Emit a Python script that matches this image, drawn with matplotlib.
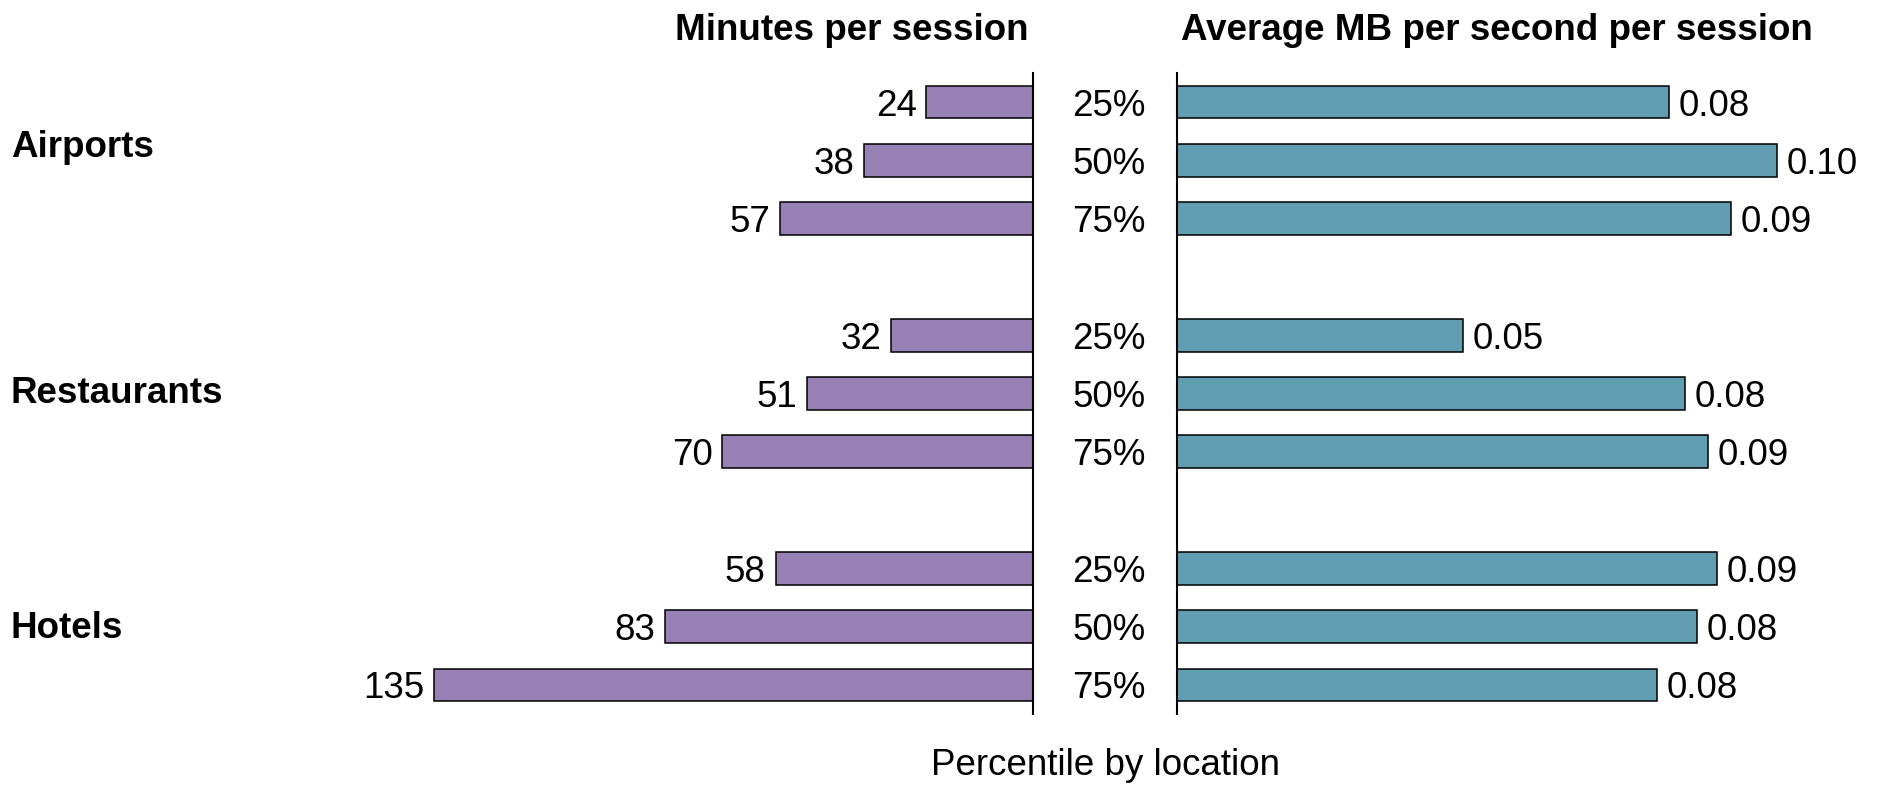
import matplotlib
matplotlib.use("Agg")
import matplotlib.pyplot as plt
import matplotlib.transforms as mtransforms

plt.rcParams["font.family"] = ["Liberation Sans", "DejaVu Sans"]

# data
locations = ["Airports", "Restaurants", "Hotels"]
percentiles = ["25%", "50%", "75%"]
minutes = [24, 38, 57, 32, 51, 70, 58, 83, 135]
mb_per_sec = [0.0795, 0.097, 0.0896, 0.0462, 0.0821, 0.0859, 0.0873, 0.0840, 0.0776]

purple = "#9680B4"
teal = "#619DB0"
fs = 26.5

W, H = 1883, 786
fig = plt.figure(figsize=(W / 100, H / 100), dpi=100)

# row positions: 3 rows per location, one blank row between groups
rows = []
for g in range(len(locations)):
    for p in range(len(percentiles)):
        rows.append(g * 4 + p)

bottom = 1 - 714 / H
height = (714 - 73) / H

# left panel (minutes), bars grow to the left
ax1 = fig.add_axes([400 / W, bottom, (1033 - 400) / W, height])
ax1.barh(rows, minutes, height=0.56, color=purple, edgecolor="black", linewidth=1.1)
ax1.set_xlim(633 / 4.438, 0)
ax1.set_ylim(10.5, -0.5)
for r, v in zip(rows, minutes):
    ax1.annotate(str(v), (v, r), xytext=(-7, 0), textcoords="offset points",
                 ha="right", va="center_baseline", fontsize=fs)

# right panel (MB per second)
ax2 = fig.add_axes([1177 / W, bottom, (W - 1177) / W, height])
ax2.barh(rows, mb_per_sec, height=0.56, color=teal, edgecolor="black", linewidth=1.1)
ax2.set_xlim(0, 706 / 6186)
ax2.set_ylim(10.5, -0.5)
for r, v in zip(rows, mb_per_sec):
    ax2.annotate(f"{v:.2f}", (v, r), xytext=(7, 0), textcoords="offset points",
                 ha="left", va="center_baseline", fontsize=fs)

for ax in (ax1, ax2):
    ax.set_xticks([])
    ax.set_yticks([])
    for s in ax.spines.values():
        s.set_visible(False)
ax1.spines["right"].set_visible(True)
ax1.spines["right"].set_linewidth(1.5)
ax2.spines["left"].set_visible(True)
ax2.spines["left"].set_linewidth(1.5)

# percentile labels between the panels
trans = mtransforms.blended_transform_factory(fig.transFigure, ax2.transData)
for i, r in enumerate(rows):
    fig.text(1109 / W, r, percentiles[i % 3], transform=trans, ha="center",
             va="center_baseline", fontsize=fs)

# location labels
label_rows = [0.94, 5.16, 9.19]
for name, y in zip(locations, label_rows):
    fig.text(11 / W, y, name, transform=trans, ha="left", va="baseline",
             fontsize=fs, fontweight="bold")

fig.text(1029 / W, 1 - 40 / H, "Minutes per session", ha="right", va="baseline",
         fontsize=fs, fontweight="bold")
fig.text(1181 / W, 1 - 40 / H, "Average MB per second per session", ha="left",
         va="baseline", fontsize=fs, fontweight="bold")
fig.text(1106 / W, 1 - 775 / H, "Percentile by location", ha="center",
         va="baseline", fontsize=fs)

fig.savefig("out.png", dpi=100)
